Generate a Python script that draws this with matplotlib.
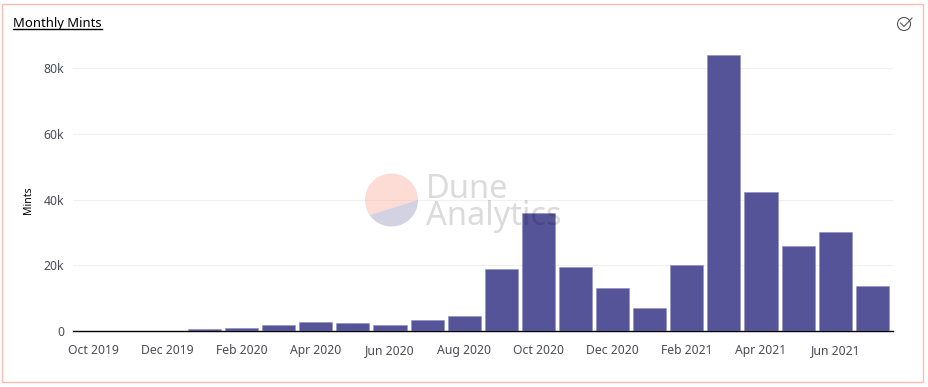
import matplotlib
matplotlib.use("Agg")
import matplotlib.pyplot as plt
import numpy as np
from matplotlib.patches import Rectangle, Polygon, Circle

plt.rcParams['font.family'] = ['Noto Sans', 'DejaVu Sans']

W, H = 929, 387

months = ["Oct 2019", "Nov 2019", "Dec 2019", "Jan 2020", "Feb 2020", "Mar 2020", "Apr 2020", "May 2020",
          "Jun 2020", "Jul 2020", "Aug 2020", "Sep 2020", "Oct 2020", "Nov 2020", "Dec 2020", "Jan 2021",
          "Feb 2021", "Mar 2021", "Apr 2021", "May 2021", "Jun 2021", "Jul 2021"]
mints = [10, 20, 30, 800, 900, 2000, 2800, 2600, 1800, 3500, 4500, 19000, 36000, 19500, 13200, 7100,
         20000, 84000, 42400, 25800, 30000, 13800]
y_ticks = [0, 20000, 40000, 60000, 80000]
y_labels = ["0", "20k", "40k", "60k", "80k"]

fig = plt.figure(figsize=(W / 100, H / 100), dpi=100)

# chart area, in pixels of the reference
left, right, top, bottom = 72.7, 892.7, 30.0, 331.3
ax = fig.add_axes([left / W, 1 - bottom / H, (right - left) / W, (bottom - top) / H])

x = list(range(len(months)))
bars = ax.bar(x, mints, width=0.89, color="#565499", edgecolor="#8f8dbb", linewidth=0.4, zorder=3)
for b, v in zip(bars, mints):
    if v < 100:  # tiny months stay hidden behind the axis line
        b.set_zorder(1)
ax.set_xlim(-0.553, 21.55)
ax.set_ylim(0, (bottom - top) / 263.5 * 80000)

ax.set_xticks(x[::2])
ax.set_xticklabels(months[::2])
ax.set_yticks(y_ticks)
ax.set_yticklabels(y_labels)
ax.tick_params(axis='both', length=0, labelsize=8.8, labelcolor="#4a4a5a")
ax.tick_params(axis='x', pad=9)
ax.tick_params(axis='y', pad=6)
ax.grid(axis='y', color="#f0f0f0", linewidth=0.8, zorder=0)
ax.set_axisbelow(True)
for s in ['top', 'right', 'left']:
    ax.spines[s].set_visible(False)
ax.spines['bottom'].set_color("black")
ax.spines['bottom'].set_linewidth(1.0)
ax.spines['bottom'].set_zorder(2)

# overlay in pixel coords for frame, title, watermark, icon
ov = fig.add_axes([0, 0, 1, 1], facecolor='none')
ov.set_xlim(0, W)
ov.set_ylim(H, 0)
ov.axis('off')

ov.add_patch(Rectangle((2.5, 3.5), 920.5, 378.5, fill=False, edgecolor="#fbbcb5", linewidth=1.0))

title = ov.text(13, 23, "Monthly Mints", fontsize=9.4, color="black", va='center', ha='left')
fig.canvas.draw()
bb = title.get_window_extent().transformed(ov.transData.inverted())
ov.plot([bb.x0, bb.x1], [28.5, 28.5], color="black", linewidth=1.0)

ov.text(29, 200, "Mints", rotation=90, fontsize=7.5, color="black", va='center', ha='center')

# watermark, circle cut by a chord that misses the centre
cx, cy, r = 391.5, 200, 26.5
a1 = np.radians(np.linspace(0, 145, 60))
a2 = np.radians(np.linspace(145, 360, 80))
ov.add_patch(Polygon(np.c_[cx + r * np.cos(a2), cy + r * np.sin(a2)], facecolor="#f9a58f", alpha=0.38, linewidth=0))
ov.add_patch(Polygon(np.c_[cx + r * np.cos(a1), cy + r * np.sin(a1)], facecolor="#7f7fb0", alpha=0.35, linewidth=0))
ov.text(426, 203, "Dune\nAnalytics", fontsize=23.5, color="black", alpha=0.14, va='center', ha='left', linespacing=0.78)

# check icon
ov.add_patch(Circle((904, 24), 6.5, fill=False, edgecolor="#555555", linewidth=0.8))
ov.plot([900.5, 904, 912], [23, 26.5, 18], color="#555555", linewidth=0.8)

fig.savefig("out.png", dpi=100)
